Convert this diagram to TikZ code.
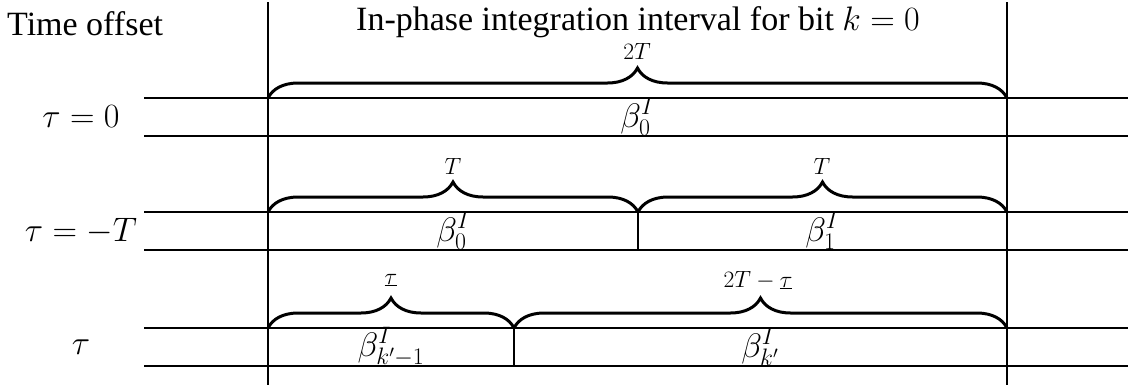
\documentclass[tikz,border=0pt]{standalone}
\usepackage{fix-cm}
\usepackage[no-math]{fontspec}
\setmainfont{Liberation Serif}
\usetikzlibrary{decorations.pathreplacing}
\begin{document}
\begin{tikzpicture}[x=1pt,y=-1pt,
  rule/.style={line width=1.8pt},
  brc/.style={decorate, decoration={brace, amplitude=30pt}, line width=3pt},
  lbl/.style={font=\fontsize{34}{40}\selectfont, inner sep=0pt},
  blbl/.style={font=\fontsize{23.5}{28}\selectfont, inner sep=0pt},
]
\useasboundingbox (0,0) rectangle (1128,389);
% vertical boundaries
\coordinate (Lt) at (268,2);   \coordinate (Lb) at (268,385);
\coordinate (Rt) at (1007,2);  \coordinate (Rb) at (1007,385);
\draw[rule] (Lt) -- (Lb);
\draw[rule] (Rt) -- (Rb);
% horizontal rows
\foreach \y/\n in {98/a1,136/b1,212/a2,250/b2,328/a3,366/b3}{
  \coordinate (\n s) at (144,\y);
  \coordinate (\n e) at (1128,\y);
  \draw[rule] (\n s) -- (\n e);
}
% brace end points
\coordinate (p1l) at (268,98);  \coordinate (p1r) at (1007,98);
\coordinate (p2l) at (268,212); \coordinate (p2m) at (638,212); \coordinate (p2r) at (1007,212);
\coordinate (p3l) at (268,328); \coordinate (p3m) at (514,328); \coordinate (p3r) at (1007,328);
\coordinate (q2m) at (638,250); \coordinate (q3m) at (514,366);
% dividers
\draw[rule] (p2m) -- (q2m);
\draw[rule] (p3m) -- (q3m);
% braces
\draw[brc] (p1l) -- (p1r);
\draw[brc] (p2l) -- (p2m);
\draw[brc] (p2m) -- (p2r);
\draw[brc] (p3l) -- (p3m);
\draw[brc] (p3m) -- (p3r);
% headings
\node[lbl, anchor=west] (hdr) at (7,24) {Time offset};
\node[lbl] (title) at (638,22) {In-phase integration interval for bit $k=0$};
% offsets
\node[lbl] (o1) at (81,117) {$\tau=0$};
\node[lbl] (o2) at (81,231) {$\tau=-T$};
\node[lbl] (o3) at (81,347) {$\tau$};
% brace labels
\node[blbl] (w1) at (637,51) {$2T$};
\node[blbl] (w2a) at (453,166) {$T$};
\node[blbl] (w2b) at (822,166) {$T$};
\node[blbl] (w3a) at (391,280) {$\underline{\tau}$};
\node[blbl] (w3b) at (758,280) {$2T-\underline{\tau}$};
% beta labels
\node[lbl] (b1) at (637,117) {$\beta_0^I$};
\node[lbl] (b2a) at (453,231) {$\beta_0^I$};
\node[lbl] (b2b) at (822,231) {$\beta_1^I$};
\node[lbl] (b3a) at (391,347) {$\beta_{k'-1}^I$};
\node[lbl] (b3b) at (760,347) {$\beta_{k'}^I$};
\end{tikzpicture}
\end{document}
